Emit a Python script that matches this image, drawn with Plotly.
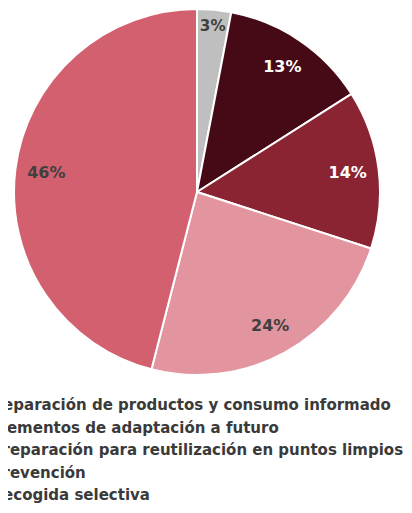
import plotly.graph_objects as go

labels = [
    "Reparación de productos y consumo informado",
    "Elementos de adaptación a futuro",
    "Preparación para reutilización en puntos limpios",
    "Prevención",
    "Recogida selectiva",
]
values = [3, 13, 14, 24, 46]
colors = ["#BFBFBF", "#450A16", "#8A2433", "#E3959F", "#D3606E"]
text_colors = ["#404040", "#FFFFFF", "#FFFFFF", "#404040", "#404040"]

W, H = 412, 513
domain = dict(x=[6/W, 372/W], y=[1 - 368/H, 1])

fig = go.Figure()
# Filled slices
fig.add_trace(go.Pie(
    labels=labels,
    values=values,
    sort=False,
    direction="clockwise",
    rotation=0,
    marker=dict(colors=colors, line=dict(color="white", width=2)),
    textinfo="none",
    domain=domain,
    hoverinfo="label+percent",
))
# Transparent ring carrying the percentage labels (places them near the outer part of each slice)
fig.add_trace(go.Pie(
    labels=labels,
    values=values,
    sort=False,
    direction="clockwise",
    rotation=0,
    hole=0.66,
    marker=dict(colors=["rgba(0,0,0,0)"] * len(values), line=dict(width=0)),
    texttemplate="%{percent:.0%}",
    textposition="inside",
    insidetextorientation="horizontal",
    insidetextfont=dict(color=text_colors, size=16, family="DejaVu Sans", weight="bold"),
    domain=domain,
    showlegend=False,
    hoverinfo="skip",
))

fig.update_layout(
    width=W, height=H,
    margin=dict(l=0, r=0, t=0, b=0, autoexpand=False),
    paper_bgcolor="white",
    plot_bgcolor="white",
    showlegend=True,
    legend=dict(
        orientation="v",
        x=-0.137, xanchor="left",
        y=1 - 380/H, yanchor="top",
        font=dict(family="DejaVu Sans", size=15, color="#3A3A3A", weight="bold"),
        bgcolor="rgba(0,0,0,0)",
    ),
)

fig.write_html("out.html")
